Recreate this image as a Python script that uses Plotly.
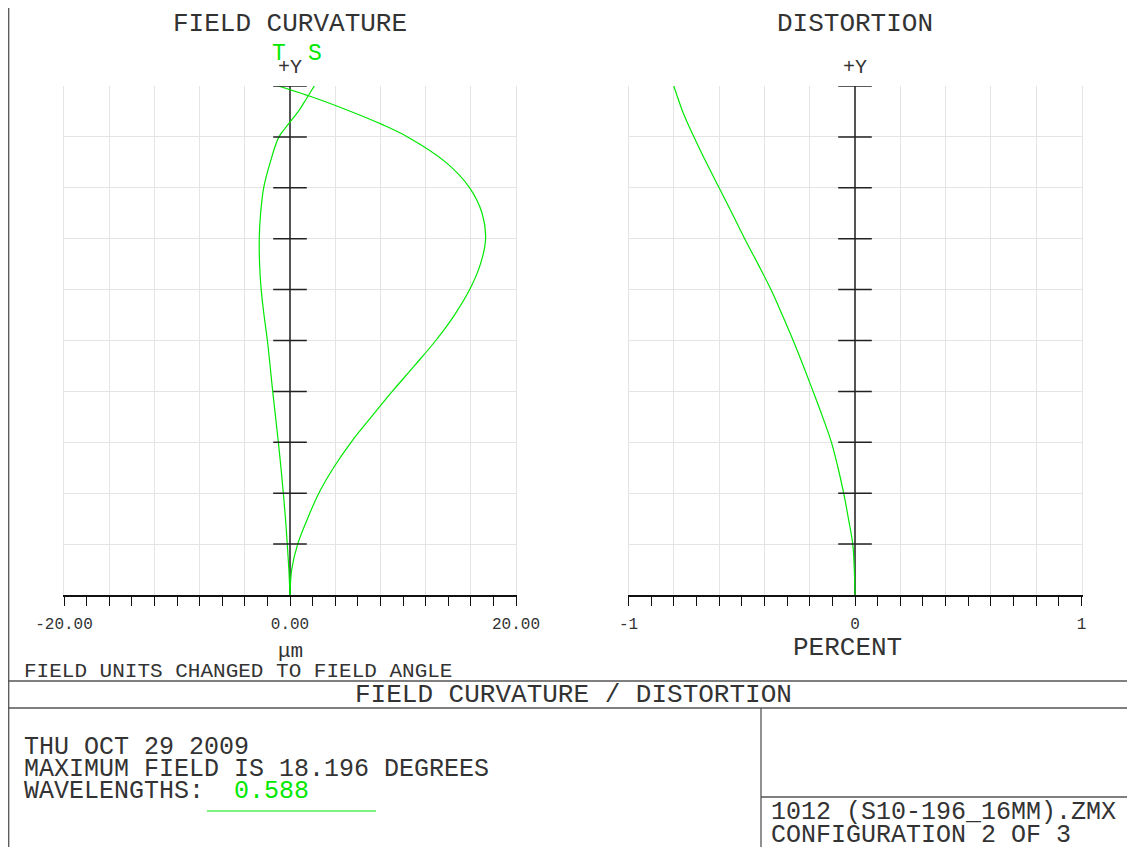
import plotly.graph_objects as go

# ---------------- data (normalized field, 0..1 of 18.196 deg) ----------------
field = [0, 0.05, 0.1, 0.15, 0.2, 0.25, 0.3, 0.35, 0.4, 0.45, 0.5, 0.55, 0.6,
         0.65, 0.7, 0.75, 0.8, 0.85, 0.9, 0.925, 0.95, 0.975, 1.0]
tangential_um = [0, 0.15, 0.68, 1.55, 2.55, 3.85, 5.4, 7.2, 9.05, 11.0, 12.9,
                 14.55, 15.9, 16.85, 17.31, 17.0, 15.9, 13.8, 10.41, 8.09, 5.38,
                 2.4, -1.03]
sagittal_um = [0, -0.1, -0.24, -0.4, -0.59, -0.8, -1.03, -1.28, -1.53, -1.76,
               -2.0, -2.3, -2.55, -2.69, -2.72, -2.6, -2.33, -1.75, -0.98, -0.15,
               0.74, 1.45, 2.15]
distortion_pct = [0, -0.003, -0.01, -0.029, -0.05, -0.075, -0.104, -0.143, -0.185,
                  -0.228, -0.273, -0.321, -0.371, -0.428, -0.487, -0.543, -0.6,
                  -0.657, -0.711, -0.737, -0.761, -0.781, -0.8]

fc_grid = [-20, -16, -12, -8, -4, 0, 4, 8, 12, 16, 20]
fc_labels = ["-20.00", "", "", "", "", "0.00", "", "", "", "", "20.00"]
dist_grid = [-1, -0.8, -0.6, -0.4, -0.2, 0, 0.2, 0.4, 0.6, 0.8, 1]
dist_labels = ["-1", "", "", "", "", "0", "", "", "", "", "1"]
y_ticks = [0.1, 0.2, 0.3, 0.4, 0.5, 0.6, 0.7, 0.8, 0.9, 1.0]

# page offset of the plot div (default body margin)
OX, OY = 8, 8
W, H = 1135 - OX, 847 - OY
GREEN = "#00e800"
INK = "#333333"
GRID = "#e4e4e4"
FONT = "Liberation Mono"


def px(x):
    return (x - OX) / W


def py(y):
    return 1 - (y - OY) / H


fig = go.Figure()

line_style = dict(color=GREEN, width=1.2, shape="spline")
# field curvature
fig.add_trace(go.Scatter(x=tangential_um, y=field, mode="lines", line=line_style,
                         xaxis="x", yaxis="y", hoverinfo="skip"))
fig.add_trace(go.Scatter(x=sagittal_um, y=field, mode="lines", line=line_style,
                         xaxis="x", yaxis="y", hoverinfo="skip"))
fig.add_trace(go.Scatter(x=[0] * len(y_ticks), y=y_ticks, mode="markers",
                         marker=dict(symbol="line-ew", size=24, line=dict(color="#222", width=1.5)),
                         xaxis="x", yaxis="y", hoverinfo="skip"))
# distortion
fig.add_trace(go.Scatter(x=distortion_pct, y=field, mode="lines", line=line_style,
                         xaxis="x2", yaxis="y2", hoverinfo="skip"))
fig.add_trace(go.Scatter(x=[0] * len(y_ticks), y=y_ticks, mode="markers",
                         marker=dict(symbol="line-ew", size=24, line=dict(color="#222", width=1.5)),
                         xaxis="x2", yaxis="y2", hoverinfo="skip"))

ydom = [py(595), py(86)]


def xax(dom, rng, grid, labels, minor):
    return dict(domain=dom, range=rng, tickvals=grid, ticktext=labels, automargin=False,
                showgrid=True, gridcolor=GRID, gridwidth=1,
                zeroline=True, zerolinecolor="#555", zerolinewidth=1.5,
                showline=True, linecolor="#111", linewidth=1.5,
                ticks="outside", ticklen=9, tickcolor="#111", tickwidth=1,
                ticklabelstandoff=4,
                minor=dict(dtick=minor, ticks="outside", ticklen=9, tickcolor="#111", showgrid=False),
                tickfont=dict(family=FONT, size=16, color=INK), fixedrange=True)


def yax(anchor):
    return dict(domain=ydom, range=[0, 1], dtick=0.1, tick0=0, showticklabels=False,
                showgrid=True, gridcolor=GRID, gridwidth=1, zeroline=False, automargin=False,
                showline=True, linecolor=GRID, mirror=True, ticks="",
                anchor=anchor, fixedrange=True)


fig.update_layout(
    width=W, height=H, margin=dict(l=0, r=0, t=0, b=0, autoexpand=False),
    paper_bgcolor="white", plot_bgcolor="white", showlegend=False,
    xaxis=dict(**xax([px(64), px(516)], [-20, 20], fc_grid, fc_labels, 2), anchor="y"),
    yaxis=yax("x"),
    xaxis2=dict(**xax([px(628.5), px(1081.5)], [-1, 1], dist_grid, dist_labels, 0.1), anchor="y2"),
    yaxis2=yax("x2"),
)


def txt(text, x, y, size, color=INK, xanchor="center", xref="paper"):
    fig.add_annotation(text=text, x=x, y=y, xref=xref, yref="paper", showarrow=False,
                       xanchor=xanchor, yanchor="middle",
                       font=dict(family=FONT, size=size, color=color))


txt("FIELD CURVATURE", 0, py(24), 26, xref="x")
txt("DISTORTION", 0, py(24), 26, xref="x2")
txt("+Y", 0, py(68), 20, xref="x")
txt("+Y", 0, py(68), 20, xref="x2")
txt("T", px(279), py(54), 23, color=GREEN)
txt("S", px(315), py(54), 23, color=GREEN)
txt("μm", 0, py(651), 21, xref="x")
txt("PERCENT", px(847), py(648), 26)
txt("FIELD UNITS CHANGED TO FIELD ANGLE", px(22), py(671), 21, xanchor="left")
txt("FIELD CURVATURE / DISTORTION", px(573), py(695), 26)
txt("THU OCT 29 2009", px(22), py(747), 25, xanchor="left")
txt("MAXIMUM FIELD IS 18.196 DEGREES", px(22), py(769), 25, xanchor="left")
txt("WAVELENGTHS:", px(22), py(791), 25, xanchor="left")
txt("0.588", px(232), py(791), 25, color=GREEN, xanchor="left")
txt("1012 (S10-196_16MM).ZMX", px(769), py(812), 25, xanchor="left")
txt("CONFIGURATION 2 OF 3", px(769), py(835), 25, xanchor="left")

FRAME = "#555555"


def hline(y, x0, x1, color=FRAME, w=1.3):
    fig.add_shape(type="line", xref="paper", yref="paper", x0=px(x0), x1=px(x1), y0=py(y), y1=py(y),
                  line=dict(color=color, width=w))


def vline(x, y0, y1, color=FRAME, w=1.3):
    fig.add_shape(type="line", xref="paper", yref="paper", x0=px(x), x1=px(x), y0=py(y0), y1=py(y1),
                  line=dict(color=color, width=w))


vline(8.7, 8, 847)
hline(681, 8, 1135)
hline(708, 8, 1135)
vline(761, 708, 847)
hline(797, 761, 1135)
hline(811, 207, 376, color=GREEN, w=1.2)

fig.write_html("out.html")
